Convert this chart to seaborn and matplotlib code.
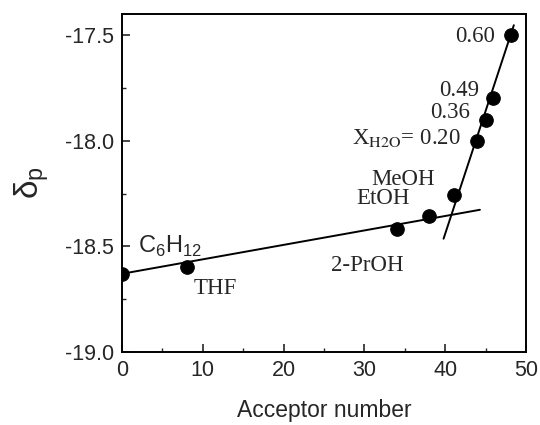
import matplotlib
matplotlib.use("Agg")
import matplotlib.pyplot as plt
import seaborn as sns
import pandas as pd
from matplotlib.ticker import MultipleLocator

# Data
labels = ["C6H12", "THF", "2-PrOH", "EtOH", "MeOH", "0.20", "0.36", "0.49", "0.60"]
acceptor_number = [0.0, 8.0, 34.0, 38.0, 41.1, 44.0, 45.0, 45.9, 48.2]
delta_p = [-18.63, -18.60, -18.42, -18.355, -18.255, -18.00, -17.90, -17.80, -17.50]

fit1_x = [0.0, 44.3]
fit1_y = [-18.63, -18.327]
fit2_x = [39.8, 48.5]
fit2_y = [-18.464, -17.453]

df = pd.DataFrame({"AN": acceptor_number, "dp": delta_p, "label": labels})
fit1 = pd.DataFrame({"x": fit1_x, "y": fit1_y})
fit2 = pd.DataFrame({"x": fit2_x, "y": fit2_y})

sns.set_theme(style="ticks")
plt.rcParams["font.family"] = ["Liberation Sans", "DejaVu Sans"]
plt.rcParams["mathtext.fontset"] = "custom"
plt.rcParams["mathtext.rm"] = "Liberation Sans"

fig = plt.figure(figsize=(5.4, 4.25), dpi=100)
ax = fig.add_axes([0.226, 0.172, 0.748, 0.795])

sns.lineplot(data=fit1, x="x", y="y", ax=ax, color="black", lw=1.4, sort=False)
sns.lineplot(data=fit2, x="x", y="y", ax=ax, color="black", lw=1.4, sort=False)
sns.scatterplot(data=df, x="AN", y="dp", ax=ax, color="black", s=95, edgecolor="black", zorder=5)

ax.set_xlim(0, 50)
ax.set_ylim(-19.0, -17.4)
ax.xaxis.set_major_locator(MultipleLocator(10))
ax.xaxis.set_minor_locator(MultipleLocator(5))
ax.yaxis.set_minor_locator(MultipleLocator(0.25))
ax.set_yticks([-19.0, -18.5, -18.0, -17.5])
ax.set_yticklabels(["-19.0", "-18.5", "-18.0", "-17.5"])
ax.tick_params(which="major", direction="in", length=6, width=1.2, labelsize=15.5, pad=6)
ax.tick_params(which="minor", direction="in", length=3, width=1.0)
for s in ax.spines.values():
    s.set_linewidth(1.4)
    s.set_color("black")

ax.set_xlabel("Acceptor number", fontsize=16.5, labelpad=13)
ax.set_ylabel(r"δ$_\mathregular{p}$", fontsize=24, labelpad=10)

serif = ["Liberation Serif", "DejaVu Serif"]
fs = 16.5
ax.text(46.2, -17.505, "0.60", ha="right", va="center", fontsize=fs, family=serif)
ax.text(44.2, -17.764, "0.49", ha="right", va="center", fontsize=fs, family=serif)
ax.text(43.1, -17.868, "0.36", ha="right", va="center", fontsize=fs, family=serif)
ax.text(41.9, -18.014, r"X$_\mathrm{H2O}$= 0.20", ha="right", va="baseline", fontsize=fs,
        family=serif, math_fontfamily="stix")
ax.text(34.77, -18.183, "MeOH", ha="center", va="center", fontsize=fs, family=serif)
ax.text(32.37, -18.272, "EtOH", ha="center", va="center", fontsize=fs, family=serif)
ax.text(30.34, -18.59, "2-PrOH", ha="center", va="center", fontsize=fs, family=serif)
ax.text(11.6, -18.698, "THF", ha="center", va="center", fontsize=fs, family=serif)
ax.text(1.97, -18.532, r"C$_\mathregular{6}$H$_\mathregular{12}$", ha="left", va="baseline", fontsize=17)

fig.savefig("out.png", dpi=100)
